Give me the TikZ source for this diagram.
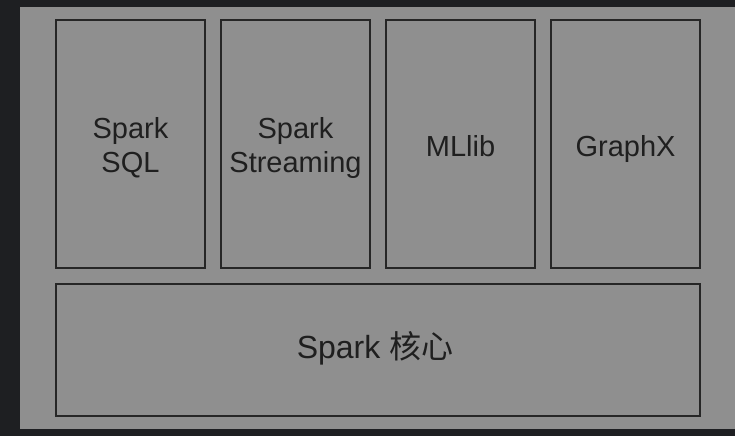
\documentclass[tikz,border=0pt]{standalone}
\usepackage{fontspec}
\usepackage{xcolor}
\setmainfont{Liberation Sans}
\newfontfamily\cjk{Noto Sans CJK SC}
\definecolor{frameDark}{HTML}{1E1F22}
\definecolor{panelGray}{HTML}{8F8F8F}
\definecolor{inkDark}{HTML}{262626}
\begin{document}
\begin{tikzpicture}[x=1pt,y=-1pt,
  module/.style={draw=inkDark,line width=2.6pt,fill=panelGray},
  modtext/.style={text=black!88,align=center,inner sep=0pt,
    font=\fontsize{29}{34}\selectfont,text height=21pt,text depth=0pt}]
\fill[frameDark] (0,0) rectangle (735,436);
\fill[panelGray] (20,7) rectangle (735,429);
\useasboundingbox (0,0) rectangle (735,436);
% upper row of libraries
\foreach \nm/\xc in {sql/130.5,streaming/295.5,mllib/460.5,graphx/625.5}
	\node[module,minimum width=149pt,minimum height=248pt] (\nm) at (\xc,144) {};
\node[modtext,text height=55pt] (sql-text) at ([yshift=-1pt]sql.center) {Spark\\SQL};
\node[modtext,text height=55pt] (streaming-text) at ([yshift=-1pt]streaming.center) {Spark\\Streaming};
\node[modtext] (mllib-text) at ([yshift=-2pt]mllib.center) {MLlib};
\node[modtext] (graphx-text) at ([yshift=-2pt]graphx.center) {GraphX};
% core
\node[module,minimum width=644pt,minimum height=132pt] (core) at (378,350) {};
\node[modtext,font=\fontsize{32}{38}\selectfont,text height=23pt,xshift=-3pt] (core-text) at ([yshift=3.5pt]core.center) {Spark {\cjk 核心}};
\end{tikzpicture}
\end{document}
